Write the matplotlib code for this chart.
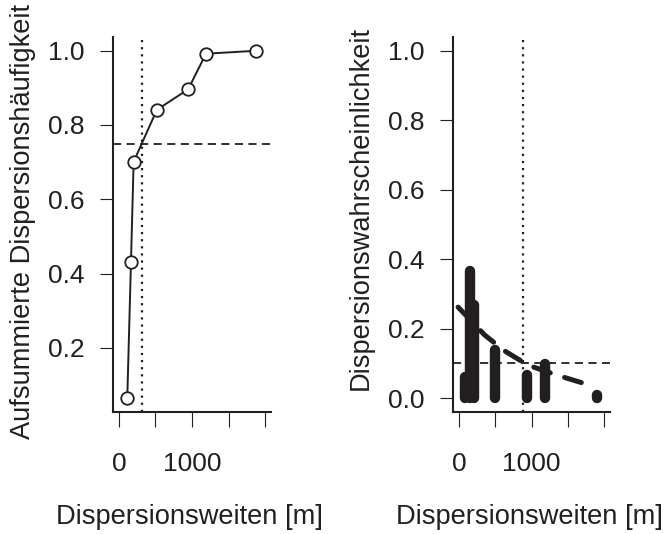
import matplotlib
matplotlib.use("Agg")
from matplotlib import pyplot as plt

plt.rcParams['font.family'] = ['Liberation Sans', 'DejaVu Sans']

# left panel: cumulative dispersion frequency
dist_cum = [115, 166, 202, 520, 947, 1191, 1880]
freq_cum = [0.064, 0.432, 0.701, 0.841, 0.896, 0.992, 1.0]
cum_vline = 316
cum_hline = 0.75

# right panel: dispersion probability columns + fitted curve
dist_prob = [85, 154, 209, 491, 938, 1192, 1902]
prob_top = [0.061, 0.366, 0.268, 0.139, 0.067, 0.098, 0.009]
fit_x = [-10, 354, 622, 952, 1337, 1681, 1833]
fit_y = [0.262, 0.182, 0.137, 0.095, 0.067, 0.045, 0.038]
prob_vline = 887
prob_hline = 0.1

xticks = [0, 500, 1000, 1500, 2000]
xticklabels = ["0", "", "1000", "", ""]

ink = "#231f20"


def style_axis(ax, yticks, ylabel, ylab_pos):
    for side in ["top", "right"]:
        ax.spines[side].set_visible(False)
    for side in ["left", "bottom"]:
        ax.spines[side].set_linewidth(1.5)
        ax.spines[side].set_color(ink)
    ax.set_xlim(-80, 2080)
    ax.set_xticks(xticks)
    ax.set_xticklabels(xticklabels)
    ax.set_yticks(yticks)
    ax.set_yticklabels(["%.1f" % t for t in yticks])
    ax.tick_params(axis="x", length=11, width=0.8, pad=18, labelsize=19, colors=ink)
    ax.tick_params(axis="y", length=9.5, width=0.8, pad=11, labelsize=19, colors=ink)
    ax.set_xlabel("Dispersionsweiten [m]", fontsize=19.6, color=ink, va="center")
    ax.xaxis.set_label_coords(0.485, -0.28)
    ax.set_ylabel(ylabel, fontsize=19.6, color=ink, va="center")
    ax.yaxis.set_label_coords(ylab_pos[0], ylab_pos[1])


fig = plt.figure(figsize=(6.64, 5.34), dpi=100)
ax1 = fig.add_axes([113 / 664, 122 / 534, 158 / 664, 375 / 534])
ax2 = fig.add_axes([453 / 664, 122 / 534, 157 / 664, 375 / 534])

ax1.plot(dist_cum, freq_cum, color=ink, lw=1.4, marker="o", markersize=9,
         markerfacecolor="white", markeredgecolor=ink, markeredgewidth=1.3)
ax1.axvline(cum_vline, color=ink, lw=1.6, linestyle=(0, (1, 2.2)))
ax1.axhline(cum_hline, color=ink, lw=1.3, linestyle=(0, (4.5, 3)))
ax1.set_ylim(0.027, 1.037)
style_axis(ax1, [0.2, 0.4, 0.6, 0.8, 1.0], "Aufsummierte Dispersionsh\u00e4ufigkeit", (-0.572, 0.507))

ax2.vlines(dist_prob, 0, prob_top, color=ink, lw=7.5, capstyle="round")
ax2.plot(fit_x, fit_y, color=ink, lw=3.6, linestyle=(0, (3.5, 3)), dash_capstyle="round")
ax2.axvline(prob_vline, color=ink, lw=1.6, linestyle=(0, (1, 2.2)))
ax2.axhline(prob_hline, color=ink, lw=1.3, linestyle=(0, (4.5, 3)))
ax2.set_ylim(-0.04, 1.04)
style_axis(ax2, [0.0, 0.2, 0.4, 0.6, 0.8, 1.0], "Dispersionswahrscheinlichkeit", (-0.586, 0.544))

fig.savefig("out.png", dpi=100)
